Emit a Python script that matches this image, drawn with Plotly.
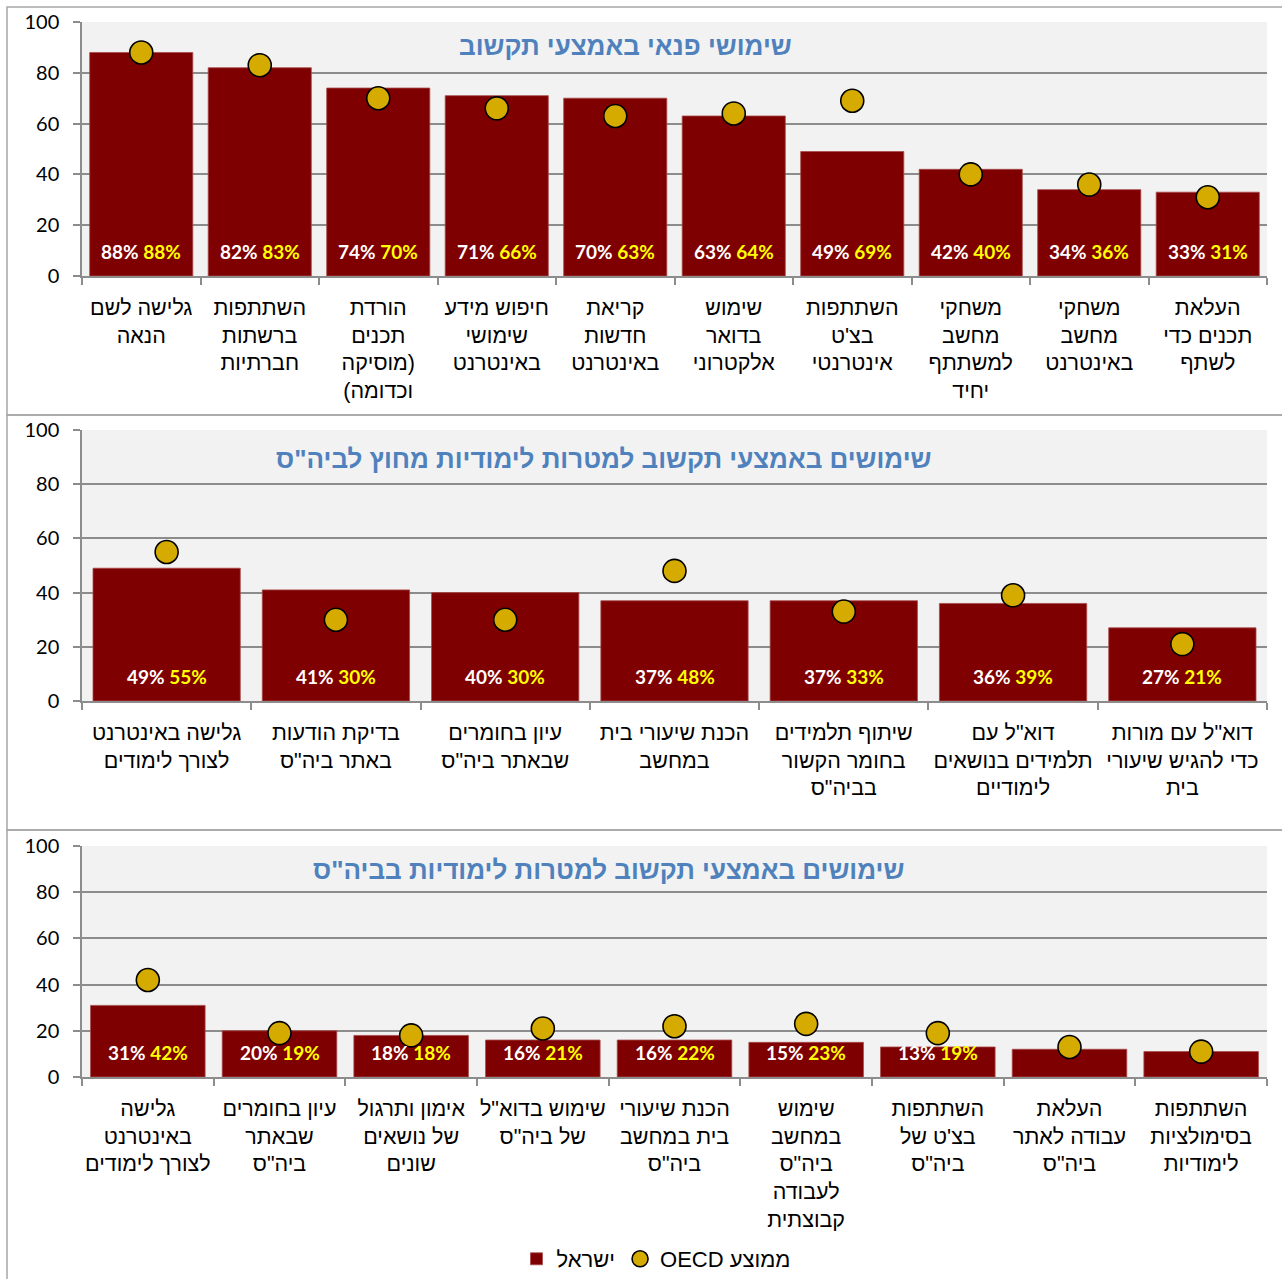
import plotly.graph_objects as go
from plotly.subplots import make_subplots

W, H = 1282, 1279

# --- data -------------------------------------------------------------
leisure_title = "שימושי פנאי באמצעי תקשוב"
leisure_cats = [
    "גלישה לשם<br>הנאה",
    "השתתפות<br>ברשתות<br>חברתיות",
    "הורדת<br>תכנים<br>(מוסיקה<br>וכדומה)",
    "חיפוש מידע<br>שימושי<br>באינטרנט",
    "קריאת<br>חדשות<br>באינטרנט",
    "שימוש<br>בדואר<br>אלקטרוני",
    "השתתפות<br>בצ'ט<br>אינטרנטי",
    "משחקי<br>מחשב<br>למשתתף<br>יחיד",
    "משחקי<br>מחשב<br>באינטרנט",
    "העלאת<br>תכנים כדי<br>לשתף",
]
leisure_israel = [88, 82, 74, 71, 70, 63, 49, 42, 34, 33]
leisure_oecd = [88, 83, 70, 66, 63, 64, 69, 40, 36, 31]
leisure_labelled = [1, 1, 1, 1, 1, 1, 1, 1, 1, 1]

outside_title = 'שימושים באמצעי תקשוב למטרות לימודיות מחוץ לביה"ס'
outside_cats = [
    "גלישה באינטרנט<br>לצורך לימודים",
    'בדיקת הודעות<br>באתר ביה"ס',
    'עיון בחומרים<br>שבאתר ביה"ס',
    "הכנת שיעורי בית<br>במחשב",
    'שיתוף תלמידים<br>בחומר הקשור<br>בביה"ס',
    'דוא"ל עם<br>תלמידים בנושאים<br>לימודיים',
    'דוא"ל עם מורות<br>כדי להגיש שיעורי<br>בית',
]
outside_israel = [49, 41, 40, 37, 37, 36, 27]
outside_oecd = [55, 30, 30, 48, 33, 39, 21]
outside_labelled = [1, 1, 1, 1, 1, 1, 1]

school_title = 'שימושים באמצעי תקשוב למטרות לימודיות בביה"ס'
school_cats = [
    "גלישה<br>באינטרנט<br>לצורך לימודים",
    'עיון בחומרים<br>שבאתר<br>ביה"ס',
    "אימון ותרגול<br>של נושאים<br>שונים",
    'שימוש בדוא"ל<br>של ביה"ס',
    'הכנת שיעורי<br>בית במחשב<br>ביה"ס',
    'שימוש<br>במחשב<br>ביה"ס<br>לעבודה<br>קבוצתית',
    'השתתפות<br>בצ\'ט של<br>ביה"ס',
    'העלאת<br>עבודה לאתר<br>ביה"ס',
    "השתתפות<br>בסימולציות<br>לימודיות",
]
school_israel = [31, 20, 18, 16, 16, 15, 13, 12, 11]
school_oecd = [42, 19, 18, 21, 22, 23, 19, 13, 11]
school_labelled = [1, 1, 1, 1, 1, 1, 1, 0, 0]

series_names = ["ישראל", "OECD ממוצע"]

# --- style ------------------------------------------------------------
BAR = "#7f0000"
DOT = "#d6ab00"
GRID = "#8c8c8c"
BG = "#f2f2f2"
TITLE = "#4f81bd"
HEB_FONT = "Liberation Sans"
NUM_FONT = "Lato"
RLM = "\u200f"


def px(x):
    return x / W


def py(y):
    return 1 - y / H


def rtl(label):
    # keep each wrapped line in right-to-left order, as in the original
    return "<br>".join(RLM + part + RLM for part in label.split("<br>"))


panels = [
    # (title, cats, israel, oecd, labelled, plot top px, plot bottom px, title centre px)
    (leisure_title, leisure_cats, leisure_israel, leisure_oecd, leisure_labelled, 22, 276, (625, 46)),
    (outside_title, outside_cats, outside_israel, outside_oecd, outside_labelled, 430, 701, (604, 459)),
    (school_title, school_cats, school_israel, school_oecd, school_labelled, 846, 1077, (608, 870)),
]
panel_boxes = [(7, 415), (415, 830), (830, 1300)]

fig = make_subplots(rows=3, cols=1)
annotations = []
shapes = []

for i, (title, cats, isr, oecd, labelled, top, bottom, tpos) in enumerate(panels, start=1):
    cats = [rtl(c) for c in cats]
    fig.add_trace(go.Bar(
        x=cats, y=isr, name=series_names[0],
        marker=dict(color=BAR, line=dict(color="#a84a4a", width=0.8)),
        showlegend=(i == 1), hoverinfo="skip",
    ), row=i, col=1)
    fig.add_trace(go.Scatter(
        x=cats, y=oecd, mode="markers", name=series_names[1],
        marker=dict(size=23, color=DOT, line=dict(color="black", width=1.6)),
        showlegend=(i == 1), hoverinfo="skip",
    ), row=i, col=1)

    suffix = "" if i == 1 else str(i)
    fig.update_layout(**{
        f"xaxis{suffix}": dict(
            domain=[px(82), px(1267)], range=[-0.5, len(cats) - 0.5],
            showline=True, linecolor=GRID, linewidth=1.5,
            ticks="outside", tickson="boundaries", ticklen=7, tickcolor=GRID, tickwidth=1.5,
            tickangle=0, showgrid=False, ticklabelstandoff=11,
            tickfont=dict(family=HEB_FONT, size=21.5, color="black"),
        ),
        f"yaxis{suffix}": dict(
            domain=[py(bottom), py(top)], range=[0, 100], dtick=20,
            showgrid=True, gridcolor=GRID, gridwidth=1.5, zeroline=False,
            showline=True, linecolor=GRID, linewidth=1.5,
            ticks="outside", ticklen=7, tickcolor=GRID, tickwidth=1.5,
            ticklabelstandoff=10,
            tickfont=dict(family=NUM_FONT, size=20, color="black"),
        ),
    })

    # data labels at the foot of each bar
    for c, a, b, show in zip(cats, isr, oecd, labelled):
        if not show:
            continue
        annotations.append(dict(
            x=c, y=0, xref=f"x{suffix}", yref=f"y{suffix}", yanchor="middle", yshift=25,
            text=f"<b>{a}% <span style='color:#ffff00'>{b}%</span></b>",
            font=dict(family=NUM_FONT, size=19, color="white"), showarrow=False,
        ))

    annotations.append(dict(
        x=px(tpos[0]), y=py(tpos[1]), xref="paper", yref="paper",
        xanchor="center", yanchor="middle",
        text=f"<b>{title}</b>", font=dict(family=HEB_FONT, size=26, color=TITLE),
        showarrow=False,
    ))

for y0, y1 in panel_boxes:
    shapes.append(dict(
        type="rect", xref="paper", yref="paper",
        x0=px(7), x1=px(1300), y0=py(y1), y1=py(y0),
        line=dict(color="#a6a6a6", width=1.5), layer="below",
    ))

fig.update_layout(
    width=W, height=H,
    margin=dict(l=0, r=0, t=0, b=0, autoexpand=False),
    paper_bgcolor="white", plot_bgcolor=BG,
    bargap=0.13,
    annotations=annotations, shapes=shapes,
    legend=dict(
        orientation="h", x=px(656), xanchor="center", y=py(1259), yanchor="middle",
        font=dict(family=HEB_FONT, size=22, color="black"), bgcolor="rgba(0,0,0,0)",
    ),
    font=dict(family=HEB_FONT),
)

fig.write_html(
    "out.html",
    config={"displayModeBar": False},
    post_script="document.body.style.margin='0';document.body.style.overflow='hidden';",
)
